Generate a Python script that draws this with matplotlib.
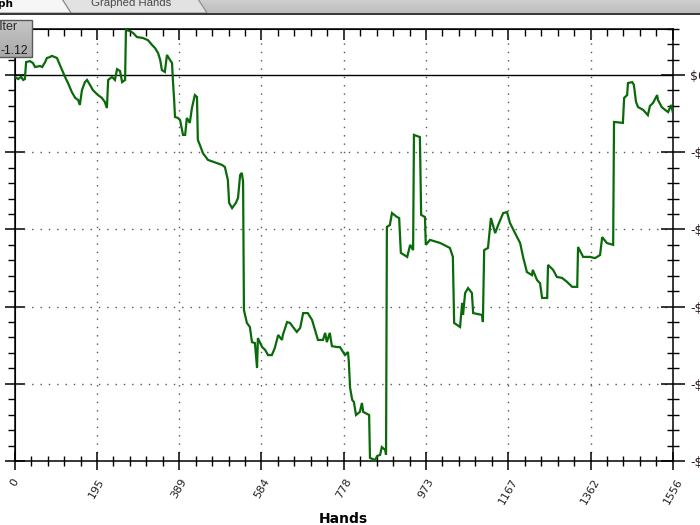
import numpy as np
import matplotlib
matplotlib.use("Agg")
import matplotlib.pyplot as plt
from matplotlib.patches import Polygon, Rectangle
from matplotlib.ticker import AutoMinorLocator

# ---------------- data ----------------
hands = [
    0, 8, 15, 20, 24, 27, 36, 43, 48, 60,
    65, 72, 76, 83, 88, 95, 100, 107, 119, 126,
    135, 143, 150, 154, 159, 166, 171, 178, 185, 197,
    206, 213, 218, 221, 230, 237, 242, 249, 254, 261,
    263, 273, 280, 289, 303, 315, 325, 332, 339, 344,
    348, 355, 360, 367, 372, 374, 377, 379, 386, 391,
    398, 403, 407, 414, 419, 426, 431, 433, 438, 445,
    457, 478, 490, 497, 504, 507, 514, 523, 528, 533,
    537, 540, 542, 549, 556, 561, 568, 573, 575, 585,
    592, 599, 608, 615, 623, 632, 634, 644, 651, 658,
    667, 675, 682, 693, 703, 710, 717, 729, 734, 738,
    745, 750, 762, 769, 781, 788, 790, 793, 798, 802,
    807, 816, 821, 824, 838, 840, 852, 857, 864, 868,
    876, 878, 880, 887, 892, 904, 909, 913, 928, 935,
    942, 944, 958, 961, 970, 972, 982, 1006, 1029, 1036,
    1039, 1053, 1058, 1060, 1065, 1072, 1081, 1084, 1105, 1107,
    1110, 1119, 1126, 1136, 1143, 1155, 1164, 1171, 1183, 1195,
    1202, 1211, 1223, 1225, 1235, 1242, 1247, 1259, 1261, 1273,
    1282, 1294, 1306, 1318, 1330, 1332, 1344, 1360, 1372, 1384,
    1389, 1400, 1415, 1417, 1438, 1441, 1448, 1450, 1460, 1464,
    1469, 1474, 1486, 1497, 1502, 1509, 1519, 1521, 1530, 1538,
    1545, 1552, 1556,
]
winnings = [
    -0.6, -1.3, -0.6, -1.6, -1.3, 4.2, 4.5, 3.9, 2.6, 2.9,
    2.6, 4.2, 5.5, 5.8, 6.2, 5.8, 5.5, 3.2, -0.6, -2.6,
    -5.5, -7.4, -8.1, -9.7, -4.9, -2.3, -1.6, -3.2, -4.9, -6.5,
    -7.4, -8.7, -10.7, -1.6, -0.6, -1.6, 1.9, 1.3, -2.3, -1.6,
    14.6, 14.2, 13.6, 12.3, 12.0, 11.3, 9.7, 8.7, 7.1, 4.9,
    1.6, 1.0, 6.5, 4.9, 3.9, -1.6, -8.1, -13.6, -13.9, -14.6,
    -19.4, -19.4, -13.9, -15.5, -10.7, -6.5, -7.1, -21.0, -22.7, -25.3,
    -27.5, -28.5, -29.1, -29.8, -34.0, -41.4, -43.1, -41.4, -39.8, -32.4,
    -31.7, -34.6, -76.1, -80.3, -81.6, -86.5, -86.8, -94.9, -85.2, -88.1,
    -89.0, -90.7, -90.7, -88.4, -84.2, -85.8, -84.2, -80.0, -80.3, -81.6,
    -83.2, -81.9, -77.1, -77.1, -79.3, -82.6, -85.8, -85.8, -83.5, -86.5,
    -83.5, -87.8, -88.1, -88.1, -90.7, -89.7, -92.9, -101.3, -105.2, -105.9,
    -110.1, -109.1, -106.2, -109.1, -110.1, -124.0, -124.7, -123.4, -123.0, -120.5,
    -121.4, -123.0, -49.2, -48.6, -44.7, -46.0, -46.3, -57.6, -58.9, -55.0,
    -56.7, -19.4, -20.1, -45.3, -46.0, -55.0, -53.4, -54.4, -56.0, -58.9,
    -80.3, -81.6, -73.8, -77.7, -70.6, -69.0, -70.6, -77.1, -77.7, -80.0,
    -56.7, -56.0, -46.3, -51.2, -48.6, -44.7, -44.4, -47.9, -51.2, -54.4,
    -58.9, -63.8, -64.8, -63.1, -66.4, -67.4, -72.2, -72.2, -61.5, -63.1,
    -65.4, -65.7, -67.0, -68.6, -68.6, -55.7, -58.9, -58.9, -59.3, -58.3,
    -52.5, -54.4, -55.0, -15.2, -15.5, -7.4, -6.5, -2.6, -2.3, -3.2,
    -8.7, -10.4, -11.3, -13.0, -10.0, -9.1, -6.5, -8.1, -10.4, -11.3,
    -12.0, -9.7, -12.0,
]
x_tick_values = [0, 194.5, 389, 583.5, 778, 972.5, 1167, 1361.5, 1556]
x_tick_labels = ["0", "195", "389", "584", "778", "973", "1167", "1362", "1556"]
y_tick_values = [0, -25, -50, -75, -100, -125]
y_tick_labels = ["$0", "-$25", "-$50", "-$75", "-$100", "-$125"]
x_label = "Hands"
tab_label = "Graphed Hands"
active_tab = "Graph"
filter_title = "Filter"
filter_value = "-1.12"

# ---------------- figure ----------------
W, H = 700, 525
fig = plt.figure(figsize=(W / 100, H / 100), dpi=100)
fig.patch.set_facecolor("white")

L, R, T, B = 14.7, 672.8, 28.7, 461.0
ax = fig.add_axes([L / W, 1 - B / H, (R - L) / W, (B - T) / H])
ax.set_xlim(0, 1556)
ax.set_ylim(-125, 15)
ax.set_facecolor("white")

for s in ax.spines.values():
    s.set_color("black")
    s.set_linewidth(1.1)

ax.plot(hands, winnings, color="#0a6a0a", lw=1.6, solid_joinstyle="miter", zorder=5)
ax.axhline(0, color="black", lw=1.0, zorder=3)

# grid
for xv in x_tick_values[1:-1]:
    ax.axvline(xv, color="#555555", lw=1.0, ls=(0, (1, 5)), zorder=1)
for yv in y_tick_values[1:-1]:
    ax.axhline(yv, color="#555555", lw=1.0, ls=(0, (1, 5)), zorder=1)

# bottom / right ticks
ax.set_xticks(x_tick_values, labels=x_tick_labels)
ax.xaxis.set_minor_locator(AutoMinorLocator(5))
ax.tick_params(axis="x", which="major", direction="inout", length=13, width=1.1,
               pad=5, labelsize=8, bottom=True, top=False, colors="black")
ax.tick_params(axis="x", which="minor", direction="inout", length=7, width=1.0,
               bottom=True, top=False)
for lab in ax.get_xticklabels():
    lab.set_rotation(60)
    lab.set_ha("center")
    lab.set_va("top")
    lab.set_color("#222222")

ax.yaxis.tick_right()
ax.set_yticks(y_tick_values, labels=y_tick_labels)
ax.yaxis.set_minor_locator(AutoMinorLocator(5))
ax.tick_params(axis="y", which="major", direction="inout", length=17, width=1.1,
               pad=3.8, labelsize=9, right=True, left=False, labelright=True, labelleft=False)
ax.tick_params(axis="y", which="minor", direction="inout", length=8, width=1.0,
               right=True, left=False)
for lab in ax.get_yticklabels():
    lab.set_color("#2a1a1a")

# top ticks (inward)
sec_top = ax.secondary_xaxis("top")
sec_top.set_xticks(x_tick_values, labels=[""] * len(x_tick_values))
sec_top.xaxis.set_minor_locator(AutoMinorLocator(5))
sec_top.tick_params(axis="x", which="major", direction="in", length=8, width=1.1)
sec_top.tick_params(axis="x", which="minor", direction="in", length=5, width=1.0)

# left ticks
sec_left = ax.secondary_yaxis("left")
sec_left.set_yticks(y_tick_values, labels=[""] * len(y_tick_values))
sec_left.yaxis.set_minor_locator(AutoMinorLocator(5))
sec_left.tick_params(axis="y", which="major", direction="inout", length=15, width=1.1)
sec_left.tick_params(axis="y", which="minor", direction="out", length=5, width=1.0)

fig.text((L + R) / 2 / W, 1 - 512 / H, x_label, ha="center", va="top",
         fontsize=10, fontweight="bold", color="black")

# ---------------- window chrome overlay ----------------
oax = fig.add_axes([0, 0, 1, 1], zorder=10)
oax.set_xlim(0, W)
oax.set_ylim(H, 0)
oax.axis("off")
oax.patch.set_alpha(0)

# background of tab strip
grad = np.linspace(0, 1, 20).reshape(-1, 1)
oax.imshow(grad, extent=(0, W, 13, 0), cmap=matplotlib.colors.LinearSegmentedColormap.from_list(
    "g", ["#cfcfcf", "#bdbdbd"]), aspect="auto", zorder=1)
# inactive tab
oax.add_patch(Polygon([(62, -1), (198, -1), (207, 13), (71, 13)], closed=True,
                      facecolor="#e2e2e2", edgecolor="#8a8a8a", lw=0.8, zorder=2))
# active tab
oax.add_patch(Polygon([(-2, -1), (62, -1), (71, 13), (-2, 13)], closed=True,
                      facecolor="#f6f6f6", edgecolor="#8a8a8a", lw=0.8, zorder=3))
oax.text(131, 6.5, tab_label, ha="center", va="baseline", fontsize=8.2,
         family="Liberation Sans", color="#4a4a4a", zorder=4)
oax.text(14.0, 6.6, active_tab, ha="right", va="baseline", fontsize=7.6,
         fontweight="bold", color="black", zorder=4)
# dark bottom line of the tab strip
oax.add_patch(Rectangle((0, 12.5), W, 2.2, facecolor="#3a3a3a", edgecolor="none", zorder=5))

# filter box
oax.imshow(np.linspace(0, 1, 30).reshape(-1, 1), extent=(-2, 31.5, 57, 20),
           cmap=matplotlib.colors.LinearSegmentedColormap.from_list("b", ["#c6c6c6", "#a9a9a9"]),
           aspect="auto", zorder=6)
oax.add_patch(Rectangle((-2, 20), 33.5, 37, facecolor="none", edgecolor="#5a5a5a", lw=1.0, zorder=7))
oax.text(17.5, 29.5, filter_title, ha="right", va="baseline", fontsize=9,
         family="Liberation Sans", color="#2a2a2a", zorder=8)
oax.text(28.5, 54, filter_value, ha="right", va="baseline", fontsize=8.8,
         family="Liberation Sans", color="#1a1a1a", zorder=8)
oax.set_xlim(0, W)
oax.set_ylim(H, 0)

fig.savefig("out.png", dpi=100)
